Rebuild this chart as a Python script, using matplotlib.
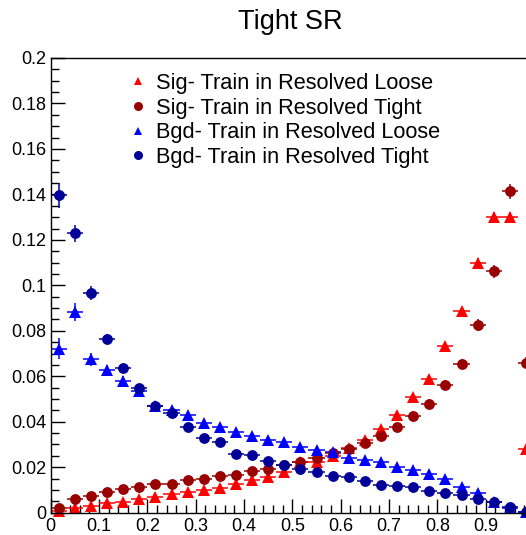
import numpy as np
import matplotlib
matplotlib.use("Agg")
import matplotlib.pyplot as plt
from matplotlib.lines import Line2D
from matplotlib.ticker import MultipleLocator

plt.rcParams['font.family'] = ['Liberation Sans', 'DejaVu Sans']

# 30 bins between 0 and 1
bin_edges = np.linspace(0, 1, 31)
bin_centers = 0.5 * (bin_edges[:-1] + bin_edges[1:])
half_width = 0.5 * (bin_edges[1] - bin_edges[0])

sig_loose = [0.0008, 0.0022, 0.0030, 0.0041, 0.0049, 0.0060, 0.0071, 0.0081, 0.0090, 0.0100,
             0.0110, 0.0125, 0.0144, 0.0156, 0.0178, 0.0222, 0.0225, 0.0250, 0.0284, 0.0321,
             0.0370, 0.0431, 0.0508, 0.0590, 0.0733, 0.0887, 0.1098, 0.1300, 0.1300, 0.0281]
sig_tight = [0.0019, 0.0059, 0.0074, 0.0091, 0.0106, 0.0115, 0.0125, 0.0128, 0.0143, 0.0149,
             0.0161, 0.0168, 0.0185, 0.0193, 0.0208, 0.0225, 0.0242, 0.0262, 0.0281, 0.0306,
             0.0336, 0.0375, 0.0427, 0.0480, 0.0560, 0.0655, 0.0824, 0.1061, 0.1413, 0.0660]
bgd_loose = [0.0721, 0.0883, 0.0674, 0.0626, 0.0580, 0.0534, 0.0468, 0.0453, 0.0431, 0.0395,
             0.0377, 0.0355, 0.0336, 0.0321, 0.0311, 0.0289, 0.0277, 0.0265, 0.0240, 0.0233,
             0.0223, 0.0203, 0.0189, 0.0170, 0.0147, 0.0115, 0.0086, 0.0049, 0.0022, 0.0001]
bgd_tight = [0.1396, 0.1229, 0.0966, 0.0765, 0.0635, 0.0547, 0.0471, 0.0439, 0.0375, 0.0328,
             0.0312, 0.0259, 0.0252, 0.0228, 0.0209, 0.0192, 0.0178, 0.0163, 0.0156, 0.0141,
             0.0124, 0.0119, 0.0112, 0.0097, 0.0086, 0.0077, 0.0062, 0.0046, 0.0026, 0.0002]

sig_loose_err = [0.0003, 0.0005, 0.0005, 0.0006, 0.0006, 0.0006, 0.0007, 0.0007, 0.0007, 0.0008,
                 0.0008, 0.0008, 0.0009, 0.0009, 0.0010, 0.0011, 0.0011, 0.0011, 0.0012, 0.0013,
                 0.0013, 0.0014, 0.0015, 0.0016, 0.0018, 0.0019, 0.0021, 0.0023, 0.0023, 0.0011]
sig_tight_err = [0.0004, 0.0007, 0.0008, 0.0009, 0.0009, 0.0010, 0.0010, 0.0010, 0.0011, 0.0011,
                 0.0012, 0.0012, 0.0012, 0.0013, 0.0013, 0.0014, 0.0014, 0.0015, 0.0016, 0.0016,
                 0.0017, 0.0018, 0.0019, 0.0020, 0.0022, 0.0023, 0.0026, 0.0029, 0.0033, 0.0023]
bgd_loose_err = [0.0046, 0.0040, 0.0030, 0.0025, 0.0022, 0.0020, 0.0018, 0.0017, 0.0016, 0.0015,
                 0.0014, 0.0013, 0.0012, 0.0012, 0.0011, 0.0011, 0.0010, 0.0010, 0.0010, 0.0009,
                 0.0009, 0.0009, 0.0008, 0.0008, 0.0007, 0.0006, 0.0005, 0.0004, 0.0003, 0.0001]
bgd_tight_err = [0.0055, 0.0037, 0.0030, 0.0022, 0.0018, 0.0016, 0.0015, 0.0014, 0.0013, 0.0012,
                 0.0012, 0.0011, 0.0011, 0.0010, 0.0010, 0.0009, 0.0009, 0.0009, 0.0008, 0.0008,
                 0.0007, 0.0007, 0.0007, 0.0006, 0.0006, 0.0006, 0.0005, 0.0004, 0.0003, 0.0001]

series = [
    ("Sig- Train in Resolved Loose", sig_loose, sig_loose_err, "#ff0000", "^"),
    ("Sig- Train in Resolved Tight", sig_tight, sig_tight_err, "#990000", "o"),
    ("Bgd- Train in Resolved Loose", bgd_loose, bgd_loose_err, "#0000ff", "^"),
    ("Bgd- Train in Resolved Tight", bgd_tight, bgd_tight_err, "#000099", "o"),
]

fig = plt.figure(figsize=(5.26, 5.35), dpi=100)
W, H = 526.0, 535.0
ax = fig.add_axes([50.7 / W, (H - 512.7) / H, 483.3 / W, (512.7 - 58.0) / H])

for label, vals, errs, col, mk in series:
    ax.errorbar(bin_centers, vals, xerr=half_width, yerr=errs, fmt=mk, color=col,
                markersize=7.8 if mk == "o" else 8, elinewidth=1.1, capsize=0,
                markeredgewidth=0, clip_on=False)

ax.set_xlim(0, 1)
ax.set_ylim(0, 0.2)
ax.xaxis.set_minor_locator(MultipleLocator(0.02))
ax.yaxis.set_minor_locator(MultipleLocator(0.005))
ax.set_xticks(np.arange(0, 1.0, 0.1))
ax.set_xticklabels(["0", "0.1", "0.2", "0.3", "0.4", "0.5", "0.6", "0.7", "0.8", "0.9"])
ax.set_yticks(np.arange(0, 0.2001, 0.02))
ax.set_yticklabels(["0", "0.02", "0.04", "0.06", "0.08", "0.1", "0.12", "0.14", "0.16", "0.18", "0.2"])
ax.tick_params(which='both', direction='in', top=False, right=False, labelsize=13, width=1)
ax.tick_params(axis='y', which='major', length=10, pad=3)
ax.tick_params(axis='y', which='minor', length=5.5)
ax.tick_params(axis='x', which='major', length=10, pad=4)
ax.tick_params(axis='x', which='minor', length=5.5)
for sp in ax.spines.values():
    sp.set_linewidth(1)

fig.text(290 / W, 1 - 22 / H, "Tight SR", ha='center', va='center', fontsize=19.5)

handles = [Line2D([], [], linestyle='none', marker=mk, color=col, markeredgewidth=0,
                  markersize=6 if mk == "^" else 6.5)
           for _, _, _, col, mk in series]
ax.legend(handles, [s[0] for s in series], loc='upper left',
          bbox_to_anchor=(129 / W, 1 - 73 / H), bbox_transform=fig.transFigure,
          frameon=False, fontsize=15.7, borderpad=0, borderaxespad=0,
          handlelength=0.8, handletextpad=0.42, labelspacing=0.17)

fig.savefig("out.png", dpi=100)
